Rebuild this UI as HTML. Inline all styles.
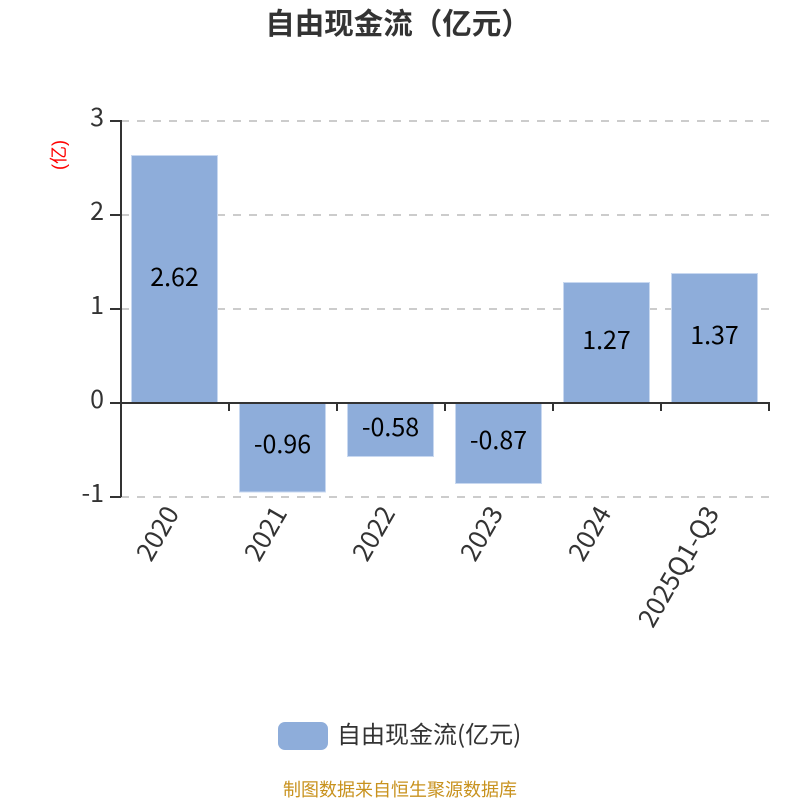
<!DOCTYPE html>
<html><head><meta charset="utf-8">
<style>html,body{margin:0;padding:0;background:#fff}svg{display:block}
text{font-family:"Liberation Sans","Noto Sans CJK SC",sans-serif}
.n{font-family:"Noto Sans CJK SC",sans-serif}</style></head>
<body>
<svg width="800" height="800" viewBox="0 0 800 800" xmlns="http://www.w3.org/2000/svg">
<rect width="800" height="800" fill="#fff"/>
<text x="398" y="34" font-size="29.500" font-weight="700" fill="#333" text-anchor="middle">自由现金流（亿元）</text>
<g stroke="#ccc" stroke-width="2" stroke-dasharray="8 8">
<path d="M121 121H769M121 215H769M121 309H769M121 497H769"/>
</g>
<g fill="#8eadda" stroke="#c8d8f0" stroke-width="1">
<rect x="131.500" y="155.500" width="86" height="247"/>
<rect x="239.500" y="402.500" width="86" height="89.500"/>
<rect x="347.500" y="402.500" width="86" height="54"/>
<rect x="455.500" y="402.500" width="86" height="81"/>
<rect x="563.500" y="282.500" width="86" height="120"/>
<rect x="671.500" y="273.500" width="86" height="129"/>
</g>
<g stroke="#333" stroke-width="2" fill="none">
<path d="M121 120V497"/>
<path d="M110 121H121M110 215H121M110 309H121M110 403H121M110 497H121"/>
<path d="M110 403H770"/>
<path d="M229 403V411M337 403V411M445 403V411M553 403V411M661 403V411M769 403V411"/>
</g>
<g font-size="25" fill="#333" text-anchor="end">
<text class="n" x="104" y="126">3</text>
<text class="n" x="104" y="220">2</text>
<text class="n" x="104" y="314">1</text>
<text class="n" x="104" y="408">0</text>
<text class="n" x="104" y="502">-1</text>
</g>
<text font-size="18" fill="#f00" text-anchor="middle" transform="translate(65 155) rotate(-90)">(亿)</text>
<g font-size="25" fill="#000" text-anchor="middle">
<text class="n" x="174.500" y="286">2.62</text>
<text class="n" x="282.500" y="453">-0.96</text>
<text class="n" x="390.500" y="436">-0.58</text>
<text class="n" x="498.500" y="449">-0.87</text>
<text class="n" x="606.500" y="349">1.27</text>
<text class="n" x="714.500" y="344">1.37</text>
</g>
<g font-size="26" fill="#333" text-anchor="end">
<text class="n" transform="translate(180 513) rotate(-60)">2020</text>
<text class="n" transform="translate(288 513) rotate(-60)">2021</text>
<text class="n" transform="translate(396 513) rotate(-60)">2022</text>
<text class="n" transform="translate(504 513) rotate(-60)">2023</text>
<text class="n" transform="translate(612 513) rotate(-60)">2024</text>
<text class="n" transform="translate(720 513) rotate(-60)">2025Q1-Q3</text>
</g>
<rect x="278" y="722" width="50" height="28" rx="7" fill="#8eadda"/>
<text class="n" x="337" y="743" font-size="24" fill="#333">自由现金流(亿元)</text>
<text x="400" y="796" font-size="18" fill="#c8921e" text-anchor="middle">制图数据来自恒生聚源数据库</text>
</svg>
</body></html>
